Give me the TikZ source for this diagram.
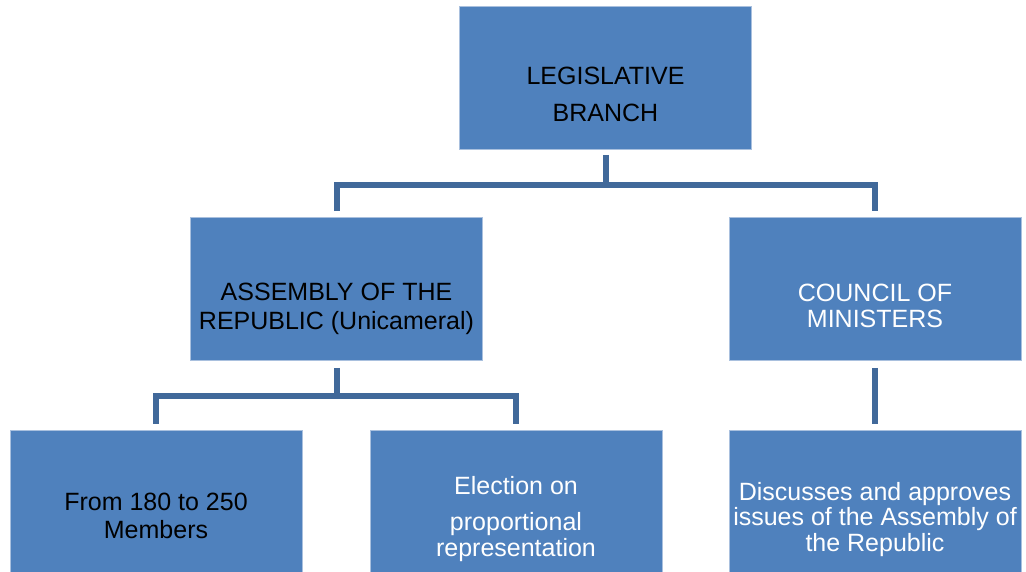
\documentclass[tikz,border=0pt]{standalone}
\usepackage{fontspec}
\setmainfont{Liberation Sans}
\usetikzlibrary{positioning}
\definecolor{boxblue}{HTML}{4F81BD}
\definecolor{boxedge}{HTML}{A9C0DE}
\definecolor{linkblue}{HTML}{41699A}
\tikzset{
  orgbox/.style={rectangle, draw=boxedge, line width=0.8pt, fill=boxblue,
                 minimum width=292pt, minimum height=143pt, inner sep=0pt},
  orgtext/.style={align=center, inner sep=0pt, font=\fontsize{25}{28}\selectfont},
  link/.style={draw=linkblue, line width=6pt},
}
\begin{document}
\begin{tikzpicture}[x=1pt, y=1pt, node distance=69pt]
  \useasboundingbox (0,0) rectangle (1026,-572);
  % boxes
  \node[orgbox] (leg) at (605.5,-78) {};
  \node[orgbox] (asm) at (336.5,-289) {};
  \node[orgbox] (cou) at (875,-289) {};
  \node[orgbox] (mem) at (156,-501.5) {};
  \node[orgbox] (ele) at (516,-501.5) {};
  \node[orgbox, below=of cou] (dis) {};
  % texts
  \node[orgtext, font=\fontsize{25}{37}\selectfont] (leg-t) at ([yshift=-16.5pt]leg.center) {LEGISLATIVE\\BRANCH};
  \node[orgtext, font=\fontsize{25}{29}\selectfont] (asm-t) at ([yshift=-20pt]asm.center) {ASSEMBLY OF THE\\REPUBLIC (Unicameral)};
  \node[orgtext, text=white, font=\fontsize{25}{26}\selectfont] (cou-t) at ([yshift=-17pt]cou.center) {COUNCIL OF\\MINISTERS};
  \node[orgtext] (mem-t) at ([yshift=-14.5pt]mem.center) {From 180 to 250\\Members};
  \node[orgtext, text=white, font=\fontsize{25}{26}\selectfont] (ele-t) at ([yshift=-18pt]ele.center) {Election on\\[10pt]proportional\\representation};
  \node[orgtext, text=white, font=\fontsize{25}{25.5}\selectfont] (dis-t) at ([yshift=-17.5pt]dis.center) {Discusses and approves\\issues of the Assembly of\\the Republic};
  % connectors
  \draw[link] ([yshift=-5pt]leg.south) -- ([yshift=-35.5pt]leg.south);
  \draw[link] ([yshift=6pt]asm.north) |- ([yshift=-35.5pt]leg.south) -| ([yshift=6pt]cou.north);
  \draw[link] ([yshift=-7pt]asm.south) -- ([yshift=-35.5pt]asm.south);
  \draw[link] ([yshift=6pt]mem.north) |- ([yshift=-35.5pt]asm.south) -| ([yshift=6pt]ele.north);
  \draw[link] ([yshift=-7pt]cou.south) -- ([yshift=6pt]dis.north);
\end{tikzpicture}
\end{document}
